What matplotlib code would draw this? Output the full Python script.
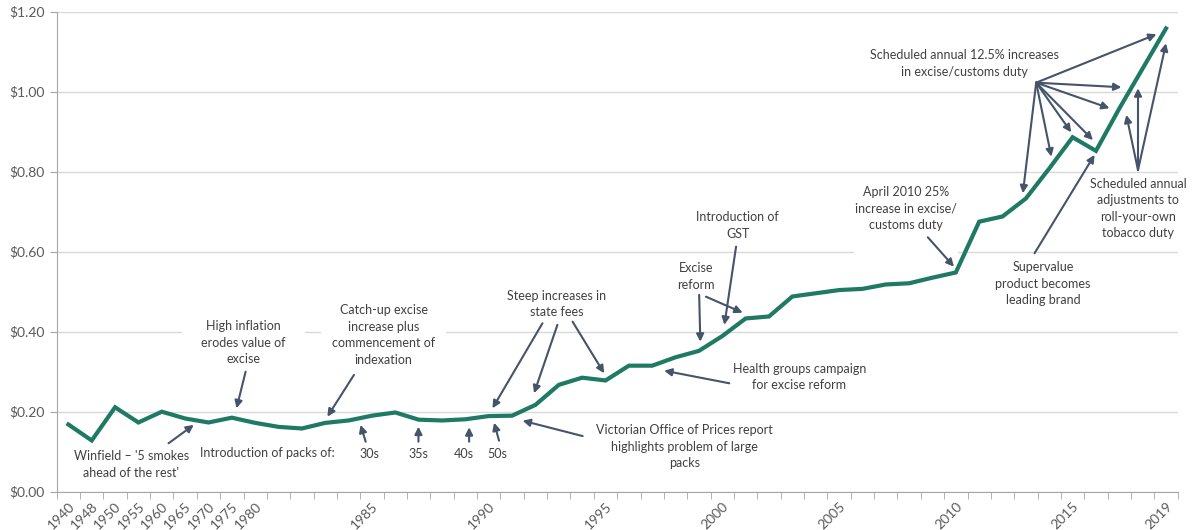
import matplotlib.pyplot as plt
import numpy as np

plt.rcParams['font.family'] = ['Lato', 'DejaVu Sans']

# categories (uneven early years, then annual)
years = [1940, 1948, 1950, 1955, 1960, 1965, 1970, 1975, 1980] + list(range(1981, 2020))
excise = [0.168, 0.128, 0.211, 0.173, 0.200, 0.183, 0.173, 0.185, 0.172,
          0.162, 0.158, 0.172, 0.178, 0.190, 0.198, 0.180, 0.178, 0.181,
          0.189, 0.190, 0.217, 0.267, 0.285, 0.278, 0.315, 0.315, 0.336,
          0.352, 0.389, 0.433, 0.438, 0.488, 0.496, 0.504, 0.507, 0.518,
          0.521, 0.535, 0.548, 0.675, 0.688, 0.733, 0.808, 0.886, 0.852,
          0.958, 1.058, 1.158]
shown_years = [1940, 1948, 1950, 1955, 1960, 1965, 1970, 1975, 1980,
               1985, 1990, 1995, 2000, 2005, 2010, 2015, 2019]
y_ticks = [0.0, 0.2, 0.4, 0.6, 0.8, 1.0, 1.2]

TEAL = '#1f7a65'
ARROW = '#44546a'
TXT = '#404040'

fig = plt.figure(figsize=(11.96, 5.30), dpi=100)
ax = fig.add_axes([0.0474, 0.0723, 0.9373, 0.9057])

x = np.arange(len(years))
ax.plot(x, excise, color=TEAL, lw=3, zorder=5, solid_joinstyle='miter')

ax.set_xlim(-0.5, len(years) - 0.5)
ax.set_ylim(0, 1.2)
ax.set_yticks(y_ticks)
ax.set_yticklabels(['${:.2f}'.format(v) for v in y_ticks])
ax.yaxis.grid(True, color='#d9d9d9', lw=1)
ax.set_axisbelow(True)

ax.set_xticks([years.index(y) for y in shown_years])
ax.set_xticklabels([str(y) for y in shown_years], rotation=45, ha='right',
                   rotation_mode='anchor')
ax.set_xticks(np.arange(-0.5, len(years)), minor=True)
ax.tick_params(axis='x', which='major', length=0, pad=6, labelsize=10, labelcolor='#595959')
ax.tick_params(axis='x', which='minor', length=5, color='#a6a6a6', direction='out')
ax.tick_params(axis='y', length=5, color='#a6a6a6', labelsize=10, labelcolor='#595959')

for s in ['top', 'right']:
    ax.spines[s].set_visible(False)
for s in ['left', 'bottom']:
    ax.spines[s].set_color('#a6a6a6')

# (text, x, y_top, padding of white box)
notes = [
    ("Winfield \u2013 '5 smokes\nahead of the rest'", 2.7, 0.103, 1),
    ("High inflation\nerodes value of\nexcise", 7.5, 0.428, 14),
    ("Catch-up excise\nincrease plus\ncommencement of\nindexation", 13.5, 0.468, 8),
    ("Introduction of packs of:", 8.5, 0.112, 1),
    ("30s", 12.9, 0.108, 1),
    ("35s", 15.0, 0.108, 1),
    ("40s", 16.94, 0.108, 1),
    ("50s", 18.37, 0.108, 1),
    ("Victorian Office of Prices report\nhighlights problem of large\npacks", 26.37, 0.168, 1),
    ("Steep increases in\nstate fees", 20.91, 0.505, 1),
    ("Health groups campaign\nfor excise reform", 31.3, 0.322, 1),
    ("Excise\nreform", 26.87, 0.574, 1),
    ("Introduction of\nGST", 28.66, 0.701, 1),
    ("April 2010 25%\nincrease in excise/\ncustoms duty\n\n", 35.87, 0.764, 1),
    ("Scheduled annual 12.5% increases\nin excise/customs duty", 38.37, 1.1055, 1),
    ("Supervalue\nproduct becomes\nleading brand", 41.73, 0.576, 1),
    ("Scheduled annual\nadjustments to\nroll-your-own\ntobacco duty", 45.8, 0.785, 1),
]
for txt, tx, ty, pad in notes:
    ax.text(tx, ty, txt, ha='center', va='top', fontsize=9, color=TXT,
            linespacing=1.45, zorder=3,
            bbox=dict(fc='white', ec='none', pad=pad))

# (start, end) of each arrow
arrows = [
    ((4.29, 0.121), (5.37, 0.167)),
    ((7.59, 0.300), (7.20, 0.2085)),
    ((12.23, 0.292), (11.09, 0.1875)),
    ((12.73, 0.125), (12.51, 0.167)),
    ((14.99, 0.125), (14.99, 0.1625)),
    ((17.16, 0.125), (17.16, 0.161)),
    ((18.44, 0.1275), (18.23, 0.1725)),
    ((22.02, 0.139), (19.45, 0.1775)),
    ((20.30, 0.421), (18.16, 0.2085)),
    ((20.94, 0.417), (19.94, 0.246)),
    ((21.59, 0.425), (22.94, 0.296)),
    ((28.30, 0.271), (25.51, 0.3025)),
    ((27.01, 0.492), (27.06, 0.375)),
    ((27.30, 0.4875), (28.87, 0.4475)),
    ((28.59, 0.6125), (28.09, 0.417)),
    ((36.80, 0.636), (37.92, 0.5625)),
    ((41.44, 1.0225), (46.59, 1.1435)),
    ((41.44, 1.0225), (45.09, 1.011)),
    ((41.44, 1.0225), (44.58, 0.9585)),
    ((41.44, 1.0225), (43.87, 0.879)),
    ((41.44, 1.0225), (42.94, 0.8985)),
    ((41.44, 1.0225), (42.09, 0.8375)),
    ((41.44, 1.0225), (40.87, 0.746)),
    ((41.37, 0.596), (43.94, 0.842)),
    ((45.80, 0.804), (45.30, 0.942)),
    ((45.80, 0.804), (45.80, 1.0085)),
    ((45.80, 0.804), (47.00, 1.121)),
]
for start, end in arrows:
    ax.annotate('', xy=end, xytext=start, zorder=6,
                arrowprops=dict(arrowstyle='-|>', color=ARROW, lw=1.5,
                                mutation_scale=11, shrinkA=0, shrinkB=0))

fig.savefig('out.png', dpi=100)
